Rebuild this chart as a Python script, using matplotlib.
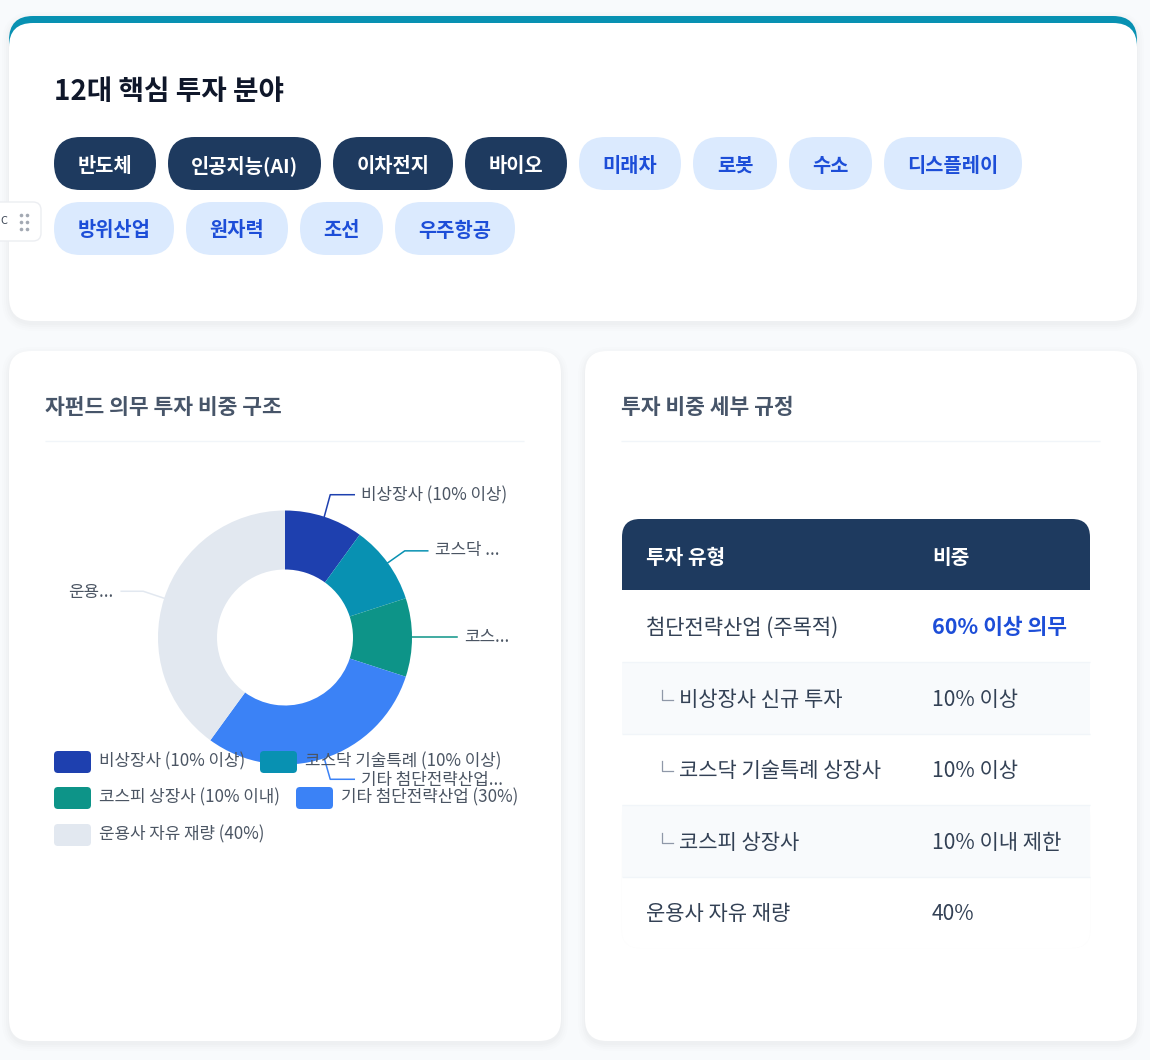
import math
import matplotlib
matplotlib.use("Agg")
import matplotlib.pyplot as plt
from matplotlib.patches import FancyBboxPatch, Rectangle, PathPatch
from matplotlib.path import Path

plt.rcParams['font.family'] = ['Noto Sans CJK KR', 'DejaVu Sans']

# ---- data ----
title = "12대 핵심 투자 분야"
chips_core = ["반도체", "인공지능(AI)", "이차전지", "바이오"]
chips_other = ["미래차", "로봇", "수소", "디스플레이", "방위산업", "원자력", "조선", "우주항공"]
pie_title = "자펀드 의무 투자 비중 구조"
table_title = "투자 비중 세부 규정"
pie_names = ["비상장사 (10% 이상)", "코스닥 기술특례 (10% 이상)", "코스피 상장사 (10% 이내)",
             "기타 첨단전략산업 (30%)", "운용사 자유 재량 (40%)"]
pie_values = [10, 10, 10, 30, 40]
pie_colors = ["#1e40af", "#0891b2", "#0d9488", "#3b82f6", "#e2e8f0"]
pie_labels = ["비상장사 (10% 이상)", "코스닥 ...", "코스...", "기타 첨단전략산업...", "운용..."]
table_head = ["투자 유형", "비중"]
table_names = ["첨단전략산업 (주목적)", "비상장사 신규 투자", "코스닥 기술특례 상장사", "코스피 상장사", "운용사 자유 재량"]
table_shares = ["60% 이상 의무", "10% 이상", "10% 이상", "10% 이내 제한", "40%"]
table_indent = [False, True, True, True, False]

# ---- layout (pixels) ----
W, H = 1150, 1060
NAVY = "#1e3a5f"
def px(v):
    return v * 0.72

fig = plt.figure(figsize=(W / 100, H / 100), dpi=100, facecolor="#f8fafc")
def pixel_axes(z):
    a = fig.add_axes([0, 0, 1, 1], zorder=z)
    a.set_xlim(0, W); a.set_ylim(H, 0); a.axis("off"); a.patch.set_alpha(0)
    return a
ax = pixel_axes(1)
top = pixel_axes(3)

def rrect(a, x0, y0, x1, y1, r, fc, ec="none", lw=0, z=2, alpha=None):
    p = FancyBboxPatch((x0, y0), x1 - x0, y1 - y0, boxstyle=f"round,pad=0,rounding_size={r}",
                       fc=fc, ec=ec, lw=lw, zorder=z, alpha=alpha)
    a.add_patch(p)
    return p

def hline(a, x0, x1, y, color, z):
    a.plot([x0, x1], [y, y], color=color, lw=1, zorder=z, solid_capstyle="butt")

def card(x0, y0, x1, y1, r=22):
    for g, al in ((7, .006), (5, .008), (3, .010), (1, .012)):
        rrect(ax, x0 - g, y0 - g + 3, x1 + g, y1 + g + 3, r + g, "#0f172a", z=1, alpha=al)
    rrect(ax, x0, y0, x1, y1, r, "#ffffff", z=2)

# top card with teal bar
for g, al in ((7, .006), (5, .008), (3, .010), (1, .012)):
    rrect(ax, 9 - g, 16 - g + 3, 1137 + g, 321 + g + 3, 24 + g, "#0f172a", z=1, alpha=al)
rrect(ax, 9, 16, 1137, 120, 24, "#0891b2", z=2)
rrect(ax, 9, 23, 1137, 321, 24, "#ffffff", z=2.1)
ax.text(54, 92, title, fontsize=px(27.7), fontweight="bold", color="#0f172a", va="center", zorder=5)

# chips
chip_boxes = [(54, 156, 137), (168, 321, 137), (333, 453, 137), (465, 567, 137),
              (579, 681, 137), (693, 777, 137), (789, 872, 137), (884, 1022, 137),
              (54, 174, 202), (186, 288, 202), (300, 383, 202), (395, 515, 202)]
chip_all = chips_core + chips_other
for i, (label, (x0, x1, y0)) in enumerate(zip(chip_all, chip_boxes)):
    core = label in chips_core
    rrect(ax, x0, y0, x1, y0 + 53, 26.5, NAVY if core else "#dbeafe", z=3)
    ax.text((x0 + x1) / 2, y0 + 29, label, fontsize=px(19.8), fontweight="bold",
            color="#ffffff" if core else "#1d4ed8", ha="center", va="center", zorder=4)

# drag widget at the left edge
rrect(ax, -20, 202, 41, 241, 8, "#ffffff", ec="#eceef2", lw=1, z=5)
for dx in (20.5, 26.5):
    for dy in (215, 222, 229):
        ax.plot([dx], [dy], "o", ms=2.6, color="#a3a9b3", mew=0, zorder=6)
ax.text(0.5, 221, "C", fontsize=px(11), color="#374151", va="center", zorder=6)

# lower cards
card(9, 351, 561, 1041)
card(585, 351, 1137, 1041)
ax.text(45, 407, pie_title, fontsize=px(21.5), fontweight="bold", color="#475569", va="center", zorder=5)
ax.text(621, 407, table_title, fontsize=px(21.5), fontweight="bold", color="#475569", va="center", zorder=5)
hline(ax, 45, 524, 440.5, "#f1f5f9", 5)
hline(ax, 621, 1100, 440.5, "#f1f5f9", 5)

# donut
CX, CY, RO, RI = 285, 637.5, 127, 68
half = 160
pie_ax = fig.add_axes([(CX - half) / W, 1 - (CY + half) / H, 2 * half / W, 2 * half / H], zorder=2)
wedges, _ = pie_ax.pie(pie_values, colors=pie_colors, startangle=90, counterclock=False, radius=RO,
                       wedgeprops=dict(width=RO - RI, edgecolor="none"))
pie_ax.set_xlim(-half, half); pie_ax.set_ylim(-half, half)
pie_ax.patch.set_alpha(0)

# leader lines: anchored at each wedge's mid-angle
elbows = [(6, -22, 24), (17, -12, 23), (45, 0, 0), (6, 21, 24), (-21, -7, -22)]
label_y = [495, 549.5, 637.5, 779.5, 591.5]
for w, color, text, (dx, dy, run), ly in zip(wedges, pie_colors, pie_labels, elbows, label_y):
    mid = math.radians((w.theta1 + w.theta2) / 2)
    sx, sy = CX + RO * math.cos(mid), CY - RO * math.sin(mid)
    xs = [sx, sx + dx, sx + dx + run]
    ys = [sy, sy + dy, sy + dy]
    top.plot(xs, ys, color=color, lw=1.1, zorder=4, solid_joinstyle="round")
    left = xs[-1] < CX
    tx = xs[-1] + (-8 if left else 7)
    top.text(tx, ly, text, fontsize=px(16.9), color="#4b5563", ha="right" if left else "left",
             va="center", zorder=5)

# legend
legend_pos = [(54, 751), (260, 751), (54, 787), (296, 787), (54, 824)]
for name, color, (x, y) in zip(pie_names, pie_colors, legend_pos):
    rrect(top, x, y, x + 37, y + 22, 4, color, z=6)
    top.text(x + 45, y + 10.5, name, fontsize=px(16.9), color="#4b5563", va="center", zorder=7)

# table
TX0, TX1 = 622, 1090
row_y = [590, 661.5, 733.5, 805, 876.5, 948]
TR = 18
# very faint bottom shadow and white body with rounded bottom corners
rrect(ax, TX0 - 1, 800, TX1 + 1, 948.5, TR + 1, "#0f172a", z=3, alpha=.008)
rrect(ax, TX0, 700, TX1, 948, TR, "#ffffff", z=3.1)
# header with rounded top corners only
hv = [(TX0, 590), (TX0, 519 + TR), (TX0, 519), (TX0 + TR, 519), (TX1 - TR, 519), (TX1, 519),
      (TX1, 519 + TR), (TX1, 590), (TX0, 590)]
hc = [Path.MOVETO, Path.LINETO, Path.CURVE3, Path.CURVE3, Path.LINETO, Path.CURVE3, Path.CURVE3,
      Path.LINETO, Path.CLOSEPOLY]
ax.add_patch(PathPatch(Path(hv, hc), fc=NAVY, ec="none", zorder=3.2))
ax.text(646, 557, table_head[0], fontsize=px(20.3), fontweight="bold", color="#ffffff", va="center", zorder=5)
ax.text(932, 557, table_head[1], fontsize=px(20.3), fontweight="bold", color="#ffffff", va="center", zorder=5)
for i, (name, share, ind) in enumerate(zip(table_names, table_shares, table_indent)):
    y0, y1 = row_y[i], row_y[i + 1]
    if i % 2 == 1:
        ax.add_patch(Rectangle((TX0, y0), TX1 - TX0, y1 - y0, fc="#f8fafc", ec="none", zorder=3.3))
    if i < len(table_names) - 1:
        hline(ax, TX0, TX1, y1, "#f1f5f9", 3.4)
    yc = (y0 + y1) / 2 + 2
    if ind:
        ax.plot([662, 662, 672.5], [yc - 10, yc, yc], color="#8f98a8", lw=0.9, zorder=5)
        ax.text(679, yc, name, fontsize=px(21), color="#334155", va="center", zorder=5)
    else:
        ax.text(646, yc, name, fontsize=px(21), color="#334155", va="center", zorder=5)
    if i == 0:
        ax.text(932, yc, share, fontsize=px(21.5), fontweight="bold", color="#1d4ed8", va="center", zorder=5)
    else:
        ax.text(932, yc, share, fontsize=px(21), color="#334155", va="center", zorder=5)

fig.savefig("out.png", dpi=100, facecolor=fig.get_facecolor())
